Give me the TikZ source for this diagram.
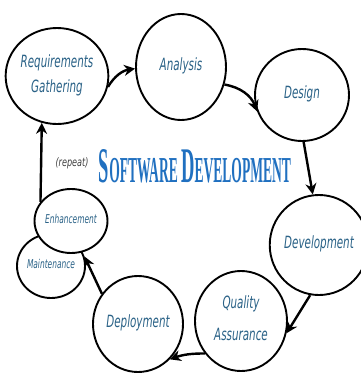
\documentclass[tikz,border=0pt]{standalone}
\usepackage{fontspec}
\setmainfont{DejaVu Sans Condensed}
\newfontfamily\titlefont{Liberation Serif}
\usetikzlibrary{shapes.geometric,arrows.meta}
\definecolor{inkblue}{RGB}{42,98,135}
\definecolor{titleblue}{RGB}{32,112,192}
\newcommand{\hw}[1]{\scalebox{0.92}[1.35]{\begin{tabular}{@{}c@{}}#1\end{tabular}}}
\tikzset{
  stage/.style={draw=black, line width=1.9pt, ellipse, inner sep=0pt, text=inkblue,
    font=\itshape\fontsize{12.5}{13}\selectfont, align=center},
  flow/.style={draw=black, line width=2.4pt, -{Stealth[length=11pt,width=11pt]}},
}
\begin{document}
\begin{tikzpicture}[x=1pt,y=-1pt]
\useasboundingbox (0,0) rectangle (361,381);
\fill[white] (0,0) rectangle (361,381);
\node[stage, minimum width=100pt, minimum height=96pt] (rg) at (57,76) {\hw{Requirements\\[5pt]Gathering}};
\node[stage, minimum width=90pt, minimum height=106pt] (an) at (181,67) {\hw{Analysis}};
\node[stage, minimum width=94pt, minimum height=92pt] (de) at (302,95) {\hw{Design}};
\node[stage, minimum width=84pt, minimum height=100pt] (dv) at (319,245) {\hw{Development}};
\node[stage, minimum width=92pt, minimum height=100pt] (qa) at (241,321) {\hw{Quality\\[11pt]Assurance}};
\node[stage, minimum width=90pt, minimum height=96pt] (dp) at (138,324) {\hw{Deployment}};
\node[stage, minimum width=68pt, minimum height=64pt, font=\itshape\fontsize{9}{10}\selectfont] (mt) at (51,266) {\hw{Maintenance}};
\node[stage, minimum width=62pt, minimum height=64pt, fill=white, font=\itshape\fontsize{9}{10}\selectfont] (en) at (71,221) {\hw{Enhancement}};
\node[text=titleblue] (title) at (195,166) {\resizebox{192pt}{33pt}{\titlefont\bfseries\fontsize{30}{30}\selectfont S\fontsize{22}{22}\selectfont OFTWARE \fontsize{30}{30}\selectfont D\fontsize{22}{22}\selectfont EVELOPMENT}};
\node[font=\itshape\fontsize{9}{10}\selectfont, text=black!75] (rep) at (72,163) {\scalebox{1}[1.3]{(repeat)}};
\draw[flow] (rg.-12) to[bend left=25] (an.182);
\draw[flow] (an.-22) to[bend left=30] (de.200);
\draw[flow] (de.-88) -- (dv.97);
\draw[flow] (dv.-100) -- (qa.-15);
\draw[flow] (qa.222) to[bend right=10] (dp.-48);
\draw[flow] (dp.140) -- (mt.16);
\draw[flow] (en.148) -- (rg.-108);
\end{tikzpicture}
\end{document}
